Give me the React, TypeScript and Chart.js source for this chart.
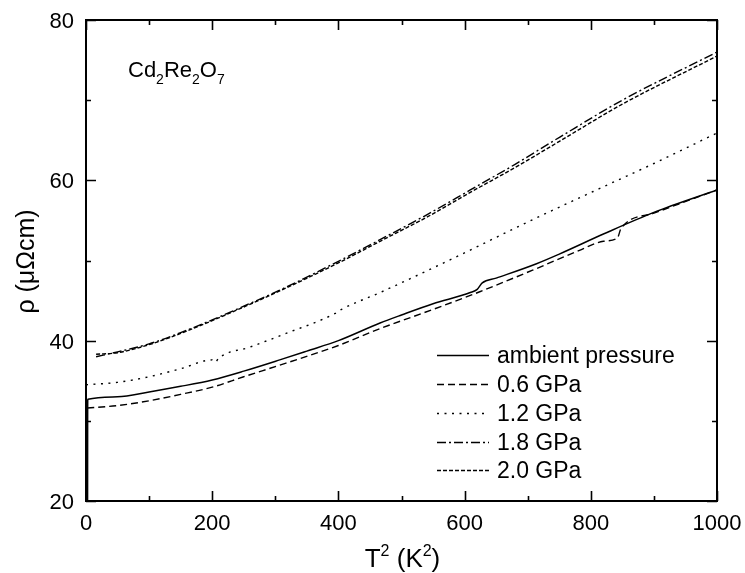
import React, { useEffect, useRef } from "react";
import { Chart, registerables } from "chart.js";

Chart.register(...registerables);

// ---- data (T^2 in K^2, rho in µΩcm) ----
const ambientX = [2.5, 2.6, 2.8, 3, 50, 100, 150, 200, 250, 307, 350, 400, 466, 500, 550, 609, 620, 628, 650, 714, 750, 820, 900, 1000];
const ambientY = [20, 30, 32.6, 32.7, 33.0, 33.6, 34.3, 35.1, 36.2, 37.6, 38.7, 40.0, 42.2, 43.2, 44.6, 46.0, 46.4, 47.2, 47.8, 49.6, 50.8, 53.3, 56.0, 58.8];

const p06X = [2, 50, 100, 150, 200, 250, 317, 400, 466, 550, 624, 714, 780, 820, 842, 848, 900, 1000];
const p06Y = [31.6, 31.9, 32.5, 33.3, 34.2, 35.5, 37.2, 39.4, 41.5, 43.9, 46.1, 49.0, 51.2, 52.4, 52.8, 54.0, 55.9, 58.8];

const p12X = [0, 50, 100, 150, 200, 205, 210, 260, 317, 395, 405, 466, 540, 609, 700, 820, 900, 1000];
const p12Y = [34.5, 34.8, 35.5, 36.5, 37.6, 37.3, 37.8, 39.2, 40.9, 43.4, 43.9, 46.0, 48.7, 51.3, 54.8, 59.2, 62.1, 65.9];

const p18X = [16, 50, 100, 150, 200, 250, 307, 400, 466, 540, 609, 680, 751, 850, 1000];
const p18Y = [38.0, 38.6, 39.6, 41.0, 42.6, 44.3, 46.3, 49.9, 52.6, 55.7, 58.8, 62.0, 65.4, 70.0, 76.0];

const p20X = [16, 50, 100, 150, 200, 250, 307, 400, 466, 540, 609, 680, 751, 850, 1000];
const p20Y = [38.3, 38.5, 39.5, 40.9, 42.5, 44.2, 46.2, 49.7, 52.4, 55.4, 58.5, 61.6, 64.9, 69.5, 75.5];

const seriesLabels = ["ambient pressure", "0.6 GPa", "1.2 GPa", "1.8 GPa", "2.0 GPa"];

const xMajorTicks = [0, 200, 400, 600, 800, 1000];
const xMinorTicks = [100, 300, 500, 700, 900];
const yMajorTicks = [20, 40, 60, 80];
const yMinorTicks = [30, 50, 70];

const dashes: number[][] = [[], [7, 4], [2, 5.5], [9, 3, 2, 3], [4, 2]];
const FONT = '"Liberation Sans", Arial, Helvetica, sans-serif';

function pts(xs: number[], ys: number[]) {
  return xs.map((x, i) => ({ x, y: ys[i] }));
}

const decorPlugin = {
  id: "decor",
  afterDraw(chart: any) {
    const ctx: CanvasRenderingContext2D = chart.ctx;
    const xs = chart.scales.x;
    const ys = chart.scales.y;
    const { left, right, top, bottom } = chart.chartArea;
    ctx.save();
    ctx.strokeStyle = "#000";
    ctx.fillStyle = "#000";
    ctx.setLineDash([]);
    // frame
    ctx.lineWidth = 2;
    ctx.strokeRect(left, top, right - left, bottom - top);
    // ticks
    ctx.lineWidth = 1.6;
    const vTick = (v: number, len: number) => {
      const px = Math.round(xs.getPixelForValue(v)) + 0.5;
      ctx.beginPath();
      ctx.moveTo(px, bottom);
      ctx.lineTo(px, bottom - len);
      ctx.moveTo(px, top);
      ctx.lineTo(px, top + len);
      ctx.stroke();
    };
    const hTick = (v: number, len: number) => {
      const py = Math.round(ys.getPixelForValue(v)) + 0.5;
      ctx.beginPath();
      ctx.moveTo(left, py);
      ctx.lineTo(left + len, py);
      ctx.moveTo(right, py);
      ctx.lineTo(right - len, py);
      ctx.stroke();
    };
    xMajorTicks.forEach((v) => vTick(v, 10));
    xMinorTicks.forEach((v) => vTick(v, 5));
    yMajorTicks.forEach((v) => hTick(v, 10));
    yMinorTicks.forEach((v) => hTick(v, 5));

    // tick labels
    ctx.font = `22px ${FONT}`;
    ctx.textBaseline = "alphabetic";
    ctx.textAlign = "center";
    xMajorTicks.forEach((v) => {
      ctx.fillText(String(v), xs.getPixelForValue(v), bottom + 29);
    });
    ctx.textAlign = "right";
    yMajorTicks.forEach((v) => {
      ctx.fillText(String(v), left - 12, ys.getPixelForValue(v) + 8);
    });

    // x title: T^2 (K^2)
    const big = `26px ${FONT}`;
    const sup = `16px ${FONT}`;
    const parts: [string, boolean][] = [["T", false], ["2", true], [" (K", false], ["2", true], [")", false]];
    let total = 0;
    parts.forEach(([t, s]) => {
      ctx.font = s ? sup : big;
      total += ctx.measureText(t).width;
    });
    let cx = (left + right) / 2 - total / 2 + 1;
    const base = 567;
    ctx.textAlign = "left";
    parts.forEach(([t, s]) => {
      ctx.font = s ? sup : big;
      ctx.fillText(t, cx, s ? base - 11 : base);
      cx += ctx.measureText(t).width;
    });

    // y title
    ctx.save();
    ctx.translate(34, (top + bottom) / 2 + 1);
    ctx.rotate(-Math.PI / 2);
    ctx.font = `25px ${FONT}`;
    ctx.textAlign = "center";
    ctx.fillText("\u03C1 (\u03BC\u03A9cm)", 0, 0);
    ctx.restore();

    // annotation Cd2Re2O7
    const ann: [string, boolean][] = [["Cd", false], ["2", true], ["Re", false], ["2", true], ["O", false], ["7", true]];
    let ax = 128;
    const ab = 77;
    ctx.textAlign = "left";
    ann.forEach(([t, s]) => {
      ctx.font = s ? `14px ${FONT}` : `22px ${FONT}`;
      ctx.fillText(t, ax, s ? ab + 7 : ab);
      ax += ctx.measureText(t).width;
    });

    // legend
    const rowsY = [355, 384, 413, 442, 470];
    ctx.font = `23px ${FONT}`;
    seriesLabels.forEach((lab, i) => {
      const y = rowsY[i] + 0.5;
      ctx.lineWidth = 1.4;
      ctx.setLineDash(dashes[i]);
      ctx.beginPath();
      ctx.moveTo(437, y);
      ctx.lineTo(489, y);
      ctx.stroke();
      ctx.setLineDash([]);
      ctx.fillText(lab, 497, rowsY[i] + 8);
    });
    ctx.restore();
  },
};

export default function App() {
  const ref = useRef<HTMLCanvasElement | null>(null);
  useEffect(() => {
    if (!ref.current) return;
    const all = [
      pts(ambientX, ambientY),
      pts(p06X, p06Y),
      pts(p12X, p12Y),
      pts(p18X, p18Y),
      pts(p20X, p20Y),
    ];
    const chart = new Chart(ref.current, {
      type: "scatter",
      data: {
        datasets: all.map((d, i) => ({
          label: seriesLabels[i],
          data: d,
          showLine: true,
          borderColor: "#000",
          backgroundColor: "#000",
          borderWidth: i === 0 ? 1.5 : 1.4,
          borderDash: dashes[i],
          pointRadius: 0,
          pointHoverRadius: 0,
          fill: false,
          cubicInterpolationMode: "monotone",
        })),
      },
      options: {
        animation: false,
        responsive: true,
        maintainAspectRatio: false,
        events: [],
        layout: { padding: { top: 20, right: 28, left: 0, bottom: 0 } },
        plugins: { legend: { display: false }, tooltip: { enabled: false } },
        scales: {
          x: {
            type: "linear",
            min: 0,
            max: 1000,
            ticks: { display: false },
            grid: { display: false, drawTicks: false },
            border: { display: false },
            afterFit: (s: any) => {
              s.height = 72;
            },
          },
          y: {
            type: "linear",
            min: 20,
            max: 80,
            ticks: { display: false },
            grid: { display: false, drawTicks: false },
            border: { display: false },
            afterFit: (s: any) => {
              s.width = 86;
            },
          },
        },
      } as any,
      plugins: [decorPlugin],
    });
    return () => chart.destroy();
  }, []);
  return (
    <div style={{ position: "fixed", left: 0, top: 0, width: 745, height: 573, background: "#fff" }}>
      <canvas ref={ref} />
    </div>
  );
}
